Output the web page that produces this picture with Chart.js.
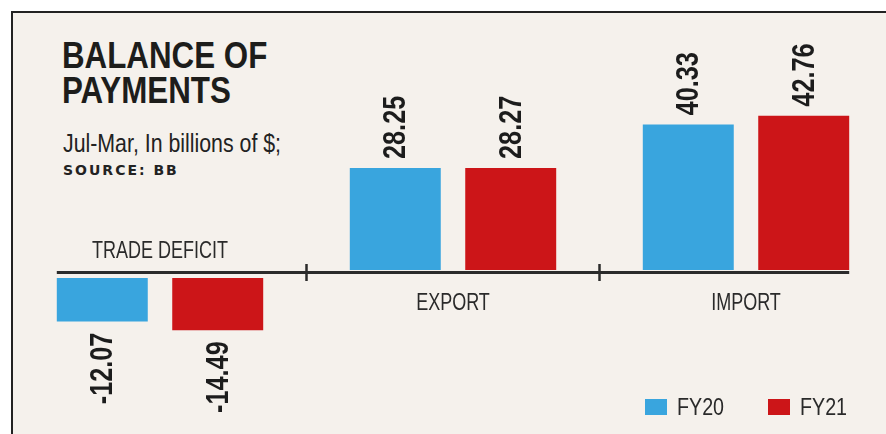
<!DOCTYPE html>
<html>
<head>
<meta charset="utf-8">
<script src="https://cdn.jsdelivr.net/npm/chart.js@4.4.1/dist/chart.umd.min.js"></script>
<style>
  html, body { margin: 0; padding: 0; width: 886px; height: 434px; overflow: hidden; background: #fff; }
  #frame {
    position: absolute; left: 11px; top: 11px; width: 900px; height: 440px;
    border-top: 2px solid #222; border-left: 2px solid #222; background: #f5f1ec;
  }
  #wrap { position: absolute; left: 0; top: 0; width: 900px; height: 434px; }
  .cond { font-family: "Liberation Sans", Arial, sans-serif; display: inline-block; white-space: nowrap; transform-origin: 0 0; }
  #title { position: absolute; left: 62px; top: 38px; font-weight: bold; font-size: 36px; line-height: 35px; color: #1d1d1b; transform: scaleX(0.87); }
  #sub { position: absolute; left: 63px; top: 130px; font-size: 26px; line-height: 26px; color: #222; transform: scaleX(0.82); }
  #source {
    position: absolute; left: 63px; top: 163px; font-family: "DejaVu Sans", sans-serif;
    font-weight: bold; font-size: 14px; line-height: 14px; letter-spacing: 2px; color: #222;
  }
  #legend .item { position: absolute; top: 395px; display: flex; align-items: center; }
  #legend .box { width: 22px; height: 16px; margin-right: 10px; }
  #legend .cond { font-size: 24px; line-height: 24px; color: #2a2a2a; transform: scaleX(0.82); }
</style>
</head>
<body>
<div id="frame"></div>
<div id="title" class="cond">BALANCE OF<br>PAYMENTS</div>
<div id="sub" class="cond">Jul-Mar, In billions of $;</div>
<div id="source">SOURCE: BB</div>
<div id="wrap"><canvas id="c"></canvas></div>
<div id="legend"></div>
<script>
const categories = ['TRADE DEFICIT', 'EXPORT', 'IMPORT'];
const seriesNames = ['FY20', 'FY21'];
const fy20 = [-12.07, 28.25, 40.33];
const fy21 = [-14.49, 28.27, 42.76];
const colors = ['#39a5de', '#cc1518'];

const FONT = '"Liberation Sans", Arial, sans-serif';
const NEG_GAP = 8;   // negative bars sit a little below the axis line

// text squeezed along its own direction, to mimic a condensed face
function condText(ctx, text, x, y, rot, sx) {
  ctx.save();
  ctx.translate(x, y);
  ctx.rotate(rot);
  ctx.scale(sx, 1);
  ctx.fillText(text, 0, 0);
  ctx.restore();
}

const barDecor = {
  id: 'barDecor',
  afterDatasetsUpdate(chart) {
    chart.data.datasets.forEach((ds, i) => {
      chart.getDatasetMeta(i).data.forEach((bar, j) => {
        if (ds.data[j] < 0) {
          bar.y += NEG_GAP;
          bar.base += NEG_GAP;
        }
      });
    });
  },
  afterDatasetsDraw(chart) {
    const { ctx } = chart;
    const xs = chart.scales.x;
    const zero = chart.scales.y.getPixelForValue(0);
    const n = chart.data.datasets.length;
    const first = chart.getDatasetMeta(0).data[0];
    const last = chart.getDatasetMeta(n - 1).data[categories.length - 1];

    ctx.save();
    // zero line
    ctx.strokeStyle = '#2b2b2b';
    ctx.lineWidth = 3;
    ctx.beginPath();
    ctx.moveTo(first.x - first.width / 2, zero + 2.5);
    ctx.lineTo(last.x + last.width / 2, zero + 2.5);
    ctx.stroke();

    // separators between groups
    ctx.lineWidth = 2.5;
    for (let i = 1; i < categories.length; i++) {
      const bx = (xs.getPixelForValue(i - 1) + xs.getPixelForValue(i)) / 2;
      ctx.beginPath();
      ctx.moveTo(bx, zero - 6);
      ctx.lineTo(bx, zero + 11);
      ctx.stroke();
    }

    // category names: above the line if the group is negative
    ctx.fillStyle = '#2a2a2a';
    ctx.font = '24px ' + FONT;
    ctx.textAlign = 'center';
    ctx.textBaseline = 'alphabetic';
    categories.forEach((cat, i) => {
      const neg = chart.data.datasets.every(ds => ds.data[i] < 0);
      condText(ctx, cat, xs.getPixelForValue(i), neg ? zero - 12 : zero + 40, 0, 0.75);
    });

    // rotated value labels
    ctx.fillStyle = '#1c1c1c';
    ctx.font = 'bold 32px ' + FONT;
    ctx.textBaseline = 'middle';
    chart.data.datasets.forEach((ds, i) => {
      chart.getDatasetMeta(i).data.forEach((bar, j) => {
        const v = ds.data[j];
        ctx.textAlign = v >= 0 ? 'left' : 'right';
        const y = v >= 0 ? bar.y - 9 : bar.y + 11;
        condText(ctx, v.toFixed(2), bar.x + 1, y, -Math.PI / 2, 0.79);
      });
    });
    ctx.restore();
  }
};

const series = [fy20, fy21];

const chart = new Chart(document.getElementById('c'), {
  type: 'bar',
  data: {
    labels: categories,
    datasets: seriesNames.map((name, i) => ({
      label: name,
      data: series[i],
      backgroundColor: colors[i],
      borderWidth: 0,
      categoryPercentage: 0.788,
      barPercentage: 0.788,
    })),
  },
  options: {
    responsive: true,
    maintainAspectRatio: false,
    animation: false,
    layout: { padding: { left: 13.5, right: 7.5, top: 89.5, bottom: 19.6 } },
    plugins: {
      legend: { display: false },
      tooltip: { enabled: false },
    },
    scales: {
      x: { display: false, offset: true },
      y: { display: false, min: -40, max: 50 },
    },
  },
  plugins: [barDecor],
});

// legend built from the same series names and colours
const legend = document.getElementById('legend');
seriesNames.forEach((name, i) => {
  const item = document.createElement('div');
  item.className = 'item';
  item.style.left = (645 + i * 123) + 'px';
  item.innerHTML = '<span class="box" style="background:' + colors[i] + '"></span>' +
    '<span class="cond">' + name + '</span>';
  legend.appendChild(item);
});
</script>
</body>
</html>
